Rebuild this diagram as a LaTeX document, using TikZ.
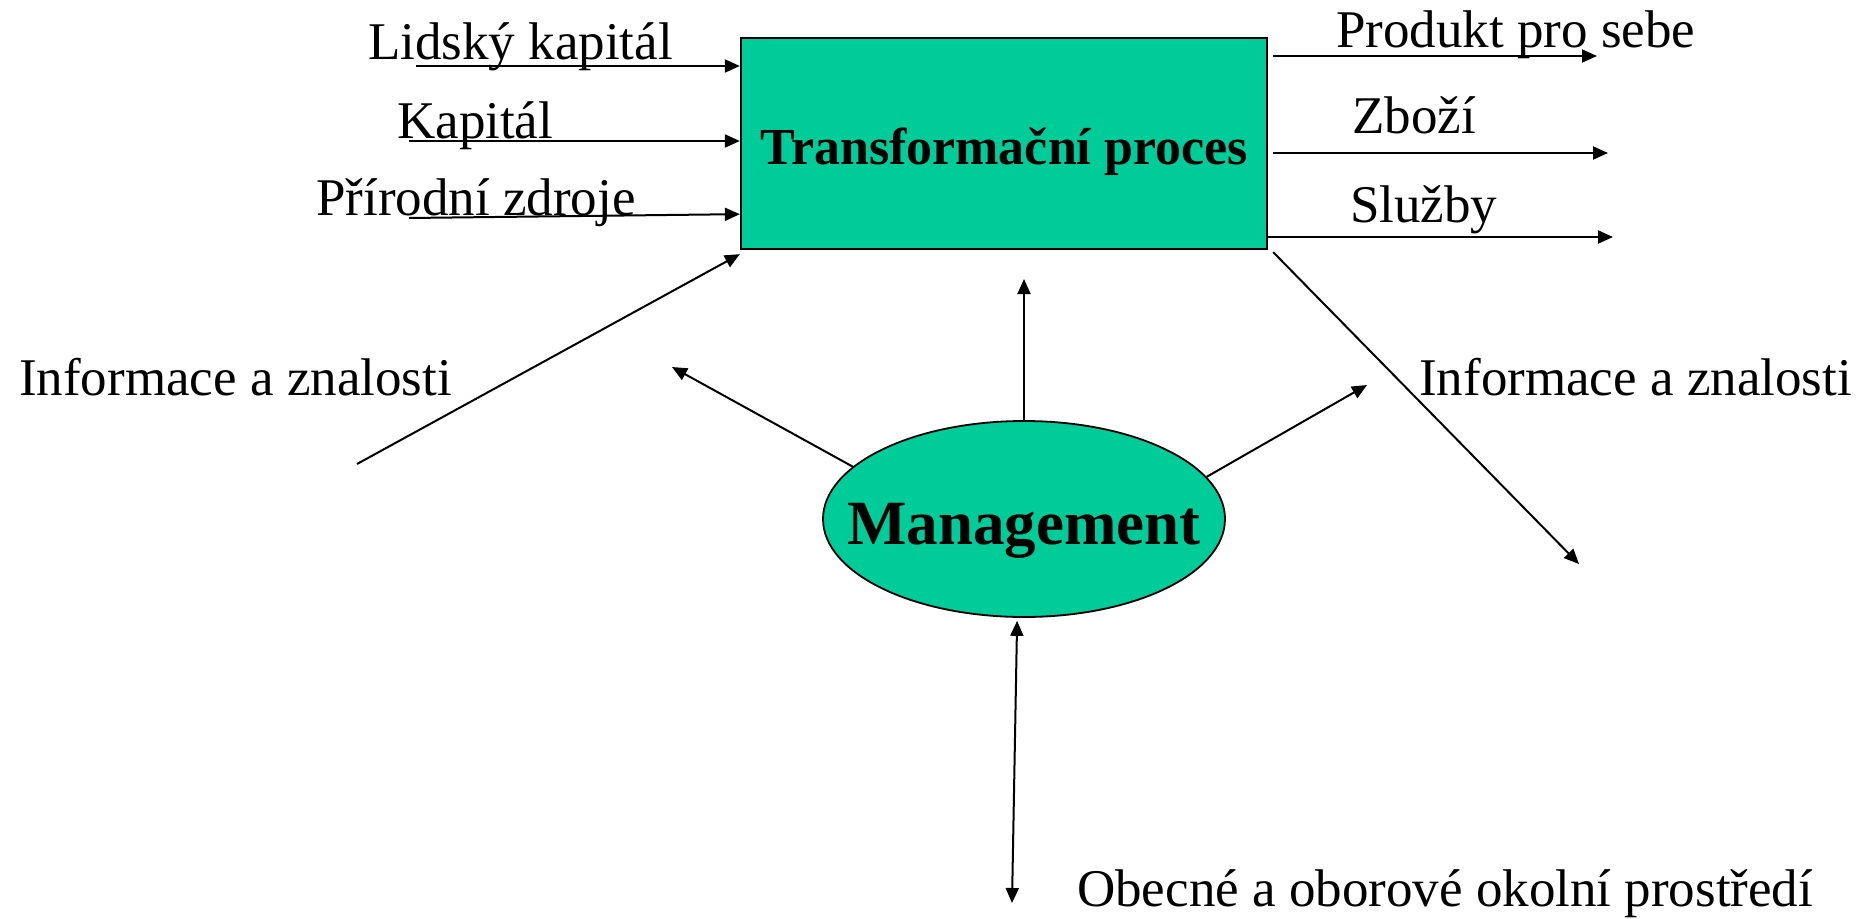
\documentclass[tikz,border=0pt]{standalone}
\usepackage{fontspec}
\setmainfont{Liberation Serif}
\usetikzlibrary{arrows.meta,shapes.geometric,calc}
\definecolor{boxgreen}{RGB}{0,204,153}
\begin{document}
\begin{tikzpicture}[x=1pt,y=-1pt,
  lbl/.style={font=\fontsize{53}{60}\selectfont, inner sep=0pt, anchor=base west},
  conn/.style={line width=2pt, -{Triangle[length=15pt,width=13pt]}},
  both/.style={line width=2pt, {Triangle[length=15pt,width=13pt]}-{Triangle[length=15pt,width=13pt]}},
  greenshape/.style={draw, fill=boxgreen, inner sep=0pt}]
\useasboundingbox (0,0) rectangle (1876,918);

% main shapes
\node[greenshape, line width=2.3pt, minimum width=526pt, minimum height=211pt] (box) at (1004,143.5) {};
\node[inner sep=0pt, anchor=base, font=\fontsize{52}{60}\selectfont\bfseries] (boxt) at (1004,164) {Transformační proces};
\node[greenshape, ellipse, line width=1.8pt, minimum width=402pt, minimum height=196pt] (m) at (1024,519) {};
\node[inner sep=0pt, anchor=base, font=\fontsize{63}{70}\selectfont\bfseries] (mt) at (1024,544) {Management};

% labels
\node[lbl] (t1) at (368,59) {Lidský kapitál};
\node[lbl] (t2) at (397,138) {Kapitál};
\node[lbl] (t3) at (316,215) {Přírodní zdroje};
\node[lbl] (t4) at (1336,47) {Produkt pro sebe};
\node[lbl] (t5) at (1352,133) {Zboží};
\node[lbl] (t6) at (1350,222) {Služby};
\node[lbl] (t7) at (19,395) {Informace a znalosti};
\node[lbl] (t8) at (1419,395) {Informace a znalosti};
\node[lbl] (t9) at (1077,906) {Obecné a oborové okolní prostředí};

% inputs
\coordinate (a1) at (416,66);
\coordinate (a2) at (409,141);
\coordinate (a3) at (409,218);
\coordinate (a4) at (357,464);
\draw[conn] (a1) -- (a1 -| box.west);
\draw[conn] (a2) -- (a2 -| box.west);
\draw[conn] (a3) -- ($(box.south west)+(0,-36)$);
\draw[conn] (a4) -- ($(box.south west)+(0,4)$);

% outputs
\coordinate (o1) at (1597,56);
\coordinate (o2) at (1608,153);
\coordinate (o3) at (1613,237);
\coordinate (o4) at (1579,564);
\draw[conn] ($(box.east |- o1)+(5,0)$) -- (o1);
\draw[conn] ($(box.east |- o2)+(5,0)$) -- (o2);
\draw[conn] (box.east |- o3) -- (o3);
\draw[conn] ($(box.south east)+(5,2)$) -- (o4);

% management
\coordinate (u1) at (1024,279);
\coordinate (u2) at (672,367);
\coordinate (u3) at (1367,385);
\coordinate (u4) at (1012,903);
\draw[conn] (m.north) -- (u1);
\draw[conn] (m.163) -- (u2);
\draw[conn] (m.13) -- (u3);
\draw[both] ($(m.266)+(0,3)$) -- (u4);
\end{tikzpicture}
\end{document}
